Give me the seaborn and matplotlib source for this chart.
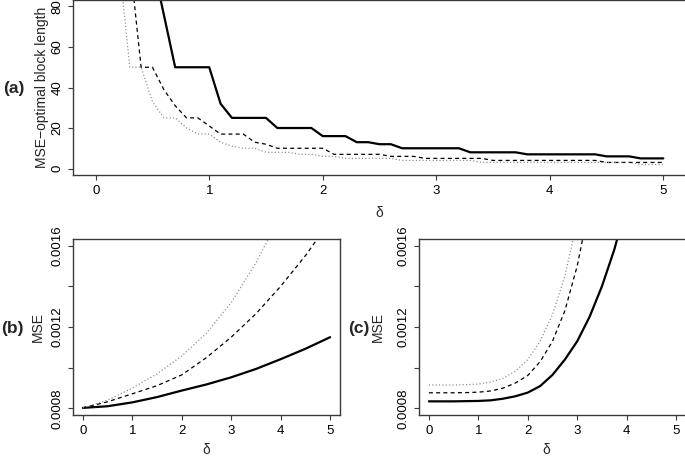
import numpy as np
import pandas as pd
import matplotlib
matplotlib.use("Agg")
import matplotlib.pyplot as plt
import seaborn as sns

# ---------------- data ----------------
# panel (a): MSE-optimal block length vs delta (grid 0, 0.1, ..., 5.0)
delta_a = [round(0.1 * i, 1) for i in range(51)]
block_solid = [800, 600, 400, 250, 160, 102, 76, 50, 50, 50,
               50, 32, 25, 25, 25, 25, 20, 20, 20, 20,
               16, 16, 16, 13, 13, 12, 12, 10, 10, 10,
               10, 10, 10, 8, 8, 8, 8, 8, 7, 7,
               7, 7, 7, 7, 7, 6, 6, 6, 5, 5, 5]
block_dashed = [600, 400, 200, 103, 50, 50, 39, 31, 25, 25,
                21, 17, 17, 17, 13, 12, 10, 10, 10, 10,
                10, 7, 7, 7, 7, 7, 6, 6, 6, 5,
                5, 5, 5, 5, 5, 4, 4, 4, 4, 4,
                4, 4, 4, 4, 4, 3, 3, 3, 3, 3, 3]
block_dotted = [400, 200, 105, 50, 50, 33, 25, 25, 20, 17,
                17, 13, 11, 10, 10, 8, 8, 8, 7, 7,
                6, 6, 5, 5, 5, 5, 5, 4, 4, 4,
                4, 4, 4, 4, 3, 3, 3, 3, 3, 3,
                3, 3, 3, 3, 3, 3, 3, 3, 2, 2, 2]

# panel (b): MSE vs delta
delta_b = [0.0, 0.5, 1.0, 1.5, 2.0, 2.5, 3.0, 3.5, 4.0, 4.5, 5.0]
mse_b_solid = [0.000803, 0.000811, 0.000830, 0.000856, 0.000888, 0.000918,
               0.000953, 0.000994, 0.001042, 0.001093, 0.001150]
mse_b_dashed = [0.000803, 0.000833, 0.000872, 0.000912, 0.000965, 0.001050,
                0.001150, 0.001265, 0.001400, 0.001550, 0.001720]
mse_b_dotted = [0.000803, 0.000841, 0.000900, 0.000970, 0.001058, 0.001170,
                0.001320, 0.001515, 0.001750, 0.002000, 0.002260]

# panel (c): MSE vs delta
delta_c = [0.0, 0.25, 0.5, 0.75, 1.0, 1.25, 1.5, 1.75, 2.0, 2.25, 2.5,
           2.75, 3.0, 3.25, 3.5, 3.75, 4.0]
mse_c_solid = [0.000835, 0.000835, 0.000835, 0.000836, 0.000837, 0.000840,
               0.000848, 0.000860, 0.000878, 0.000910, 0.000965, 0.001040,
               0.001130, 0.001250, 0.001400, 0.001580, 0.001800]
mse_c_dashed = [0.000877, 0.000877, 0.000877, 0.000878, 0.000880, 0.000886,
                0.000900, 0.000925, 0.000962, 0.001030, 0.001130, 0.001280,
                0.001500, 0.001800, 0.002150, 0.002550, 0.003000]
mse_c_dotted = [0.000915, 0.000915, 0.000915, 0.000917, 0.000920, 0.000930,
                0.000948, 0.000983, 0.001040, 0.001130, 0.001260, 0.001450,
                0.001720, 0.002050, 0.002450, 0.002900, 0.003400]

x_ticks = [0, 1, 2, 3, 4, 5]
a_yticks = [0, 20, 40, 60, 80]
mse_ticks = [0.0008, 0.0010, 0.0012, 0.0014, 0.0016]
mse_ticklabels = ["0.0008", "", "0.0012", "", "0.0016"]

# ---------------- style ----------------
sns.set_theme(style="ticks")
plt.rcParams['font.family'] = ['Liberation Sans', 'DejaVu Sans']
plt.rcParams['axes.unicode_minus'] = True

W, H = 685, 458
fig = plt.figure(figsize=(W / 100, H / 100), dpi=100)
fig.patch.set_facecolor("white")


def px_axes(left, right, top, bottom):
    return fig.add_axes([left / W, 1 - bottom / H, (right - left) / W, (bottom - top) / H])


ax_a = px_axes(73, 686, 0, 175)
ax_b = px_axes(73, 340, 239, 415)
ax_c = px_axes(419, 686, 239, 415)

FRAME = "#3a3a3a"
TICK = 9.5
LBL = 10


def style_axes(ax):
    ax.set_facecolor("white")
    for s in ax.spines.values():
        s.set_visible(True)
        s.set_color(FRAME)
        s.set_linewidth(1.0)
    ax.tick_params(direction="out", length=3.8, width=0.8, color=FRAME,
                   labelsize=TICK, labelcolor="black", pad=3.2)
    ax.grid(False)


def draw(ax, x, ys):
    specs = [
        (ys[0], "black", 1.6, "-"),
        (ys[1], "black", 0.9, (0, (3.2, 2.6))),
        (ys[2], "#8a8a8a", 0.9, (0, (0.9, 1.8))),
    ]
    for y, col, lw, ls in specs:
        df = pd.DataFrame({"delta": x, "val": y})
        sns.lineplot(data=df, x="delta", y="val", ax=ax, color=col,
                     linewidth=lw, linestyle=ls, estimator=None, sort=False)


# panel (a)
draw(ax_a, delta_a, [block_solid, block_dashed, block_dotted])
style_axes(ax_a)
ax_a.set_xlim(-0.2, 5.2)
ax_a.set_ylim(-3.2, 83.2)
ax_a.set_xticks(x_ticks)
ax_a.set_yticks(a_yticks)
for t in ax_a.get_yticklabels():
    t.set_rotation(90)
    t.set_va("center")
ax_a.set_xlabel("δ", fontsize=LBL, va="center")
ax_a.xaxis.set_label_coords(0.5, -0.215)
ax_a.set_ylabel("MSE−optimal block length", fontsize=LBL, va="center")
ax_a.yaxis.set_label_coords((42 - 73) / 613, 0.5)

# panel (b)
draw(ax_b, delta_b, [mse_b_solid, mse_b_dashed, mse_b_dotted])
style_axes(ax_b)
ax_b.set_xlim(-0.2, 5.2)
ax_b.set_ylim(0.000768, 0.001632)
ax_b.set_xticks(x_ticks)
ax_b.set_yticks(mse_ticks)
ax_b.set_yticklabels(mse_ticklabels)
for t in ax_b.get_yticklabels():
    t.set_rotation(90)
    t.set_va("center")
ax_b.set_xlabel("δ", fontsize=LBL, va="center")
ax_b.xaxis.set_label_coords((206 - 73) / 267, -0.20)
ax_b.set_ylabel("MSE", fontsize=LBL, va="center")
ax_b.yaxis.set_label_coords((38 - 73) / 267, 0.5)

# panel (c)
draw(ax_c, delta_c, [mse_c_solid, mse_c_dashed, mse_c_dotted])
style_axes(ax_c)
ax_c.set_xlim(-0.2, 5.2)
ax_c.set_ylim(0.000768, 0.001632)
ax_c.set_xticks(x_ticks)
ax_c.set_yticks(mse_ticks)
ax_c.set_yticklabels(mse_ticklabels)
for t in ax_c.get_yticklabels():
    t.set_rotation(90)
    t.set_va("center")
ax_c.set_xlabel("δ", fontsize=LBL, va="center")
ax_c.xaxis.set_label_coords((546 - 419) / 267, -0.20)
ax_c.set_ylabel("MSE", fontsize=LBL, va="center")
ax_c.yaxis.set_label_coords((378 - 419) / 267, 0.5)

# panel tags
for txt, x, y in [("(a)", 14, 88), ("(b)", 12, 328), ("(c)", 359, 328)]:
    fig.text(x / W, 1 - y / H, txt, fontsize=12.5, fontweight="bold",
             ha="center", va="center")

fig.savefig("out.png", dpi=100, facecolor="white")
